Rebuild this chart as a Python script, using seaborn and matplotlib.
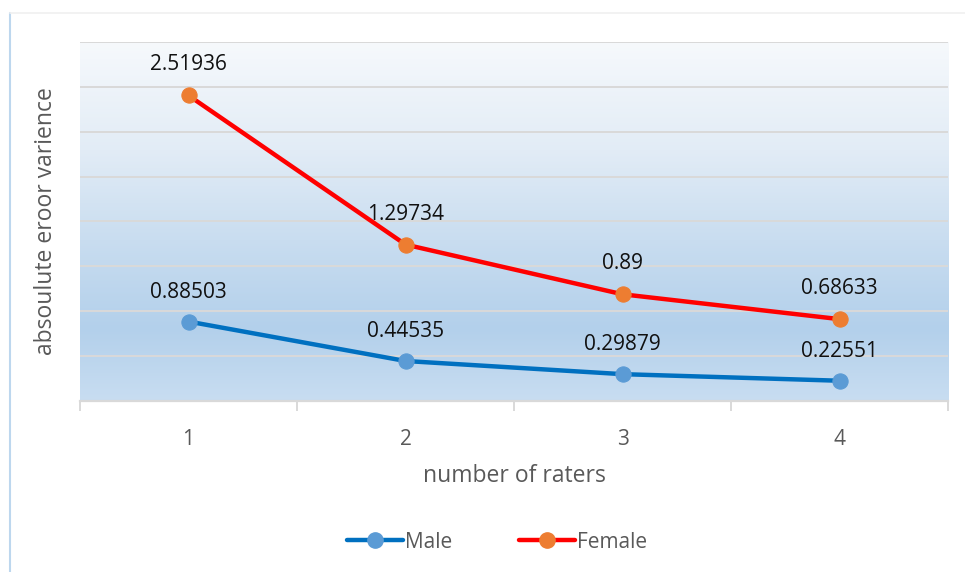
import numpy as np
import pandas as pd
import seaborn as sns
import matplotlib.pyplot as plt
from matplotlib.colors import LinearSegmentedColormap
from matplotlib.lines import Line2D

# values (Excel stacked line chart)
raters = [1, 2, 3, 4]
male = [0.88503, 0.44535, 0.29879, 0.22551]
female = [2.51936, 1.29734, 0.89, 0.68633]

df = pd.DataFrame({'raters': raters, 'Male': male, 'Female': female})
# stacked: female line sits on top of male
df['Female_stack'] = df['Male'] + df['Female']

sns.set_style('white')
plt.rcParams['font.family'] = ['Open Sans', 'DejaVu Sans']

fig = plt.figure(figsize=(9.65, 5.72), dpi=100)
ax = fig.add_axes([0.0829, 0.299, 0.8995, 0.6276])

# gradient plot-area background (row 0 = top)
grad_cmap = LinearSegmentedColormap.from_list(
    'bg', [(0.0, '#f6f9fc'), (0.3, '#e2ecf6'), (0.55, '#c9ddf0'),
           (0.8, '#b3d0eb'), (1.0, '#c8ddf1')])
grad = np.linspace(0, 1, 256).reshape(-1, 1)
ax.imshow(grad, cmap=grad_cmap, aspect='auto', extent=(0.5, 4.5, 0, 4),
          origin='upper', zorder=0)

ax.set_xlim(0.5, 4.5)
ax.set_ylim(0, 4)
ax.set_yticks(np.arange(0, 4.01, 0.5))
ax.set_yticklabels([])
ax.tick_params(axis='y', length=0)
ax.grid(axis='y', color='#d9d9d9', linewidth=1.4, zorder=1)
ax.set_axisbelow(False)

sns.lineplot(data=df, x='raters', y='Male', ax=ax, color='#0070c0',
             linewidth=3.2, marker='o', markersize=11,
             markerfacecolor='#5b9bd5', markeredgecolor='#5b9bd5',
             zorder=3, legend=False)
sns.lineplot(data=df, x='raters', y='Female_stack', ax=ax, color='#ff0000',
             linewidth=3.2, marker='o', markersize=11,
             markerfacecolor='#ed7d31', markeredgecolor='#ed7d31',
             zorder=3, legend=False)

# data labels show the raw values
for x, ys, v in zip(df['raters'], df['Male'], df['Male']):
    ax.annotate(f'{v:g}', (x, ys), xytext=(0, 21), textcoords='offset points',
                ha='center', va='center', fontsize=15, color='#111111',
                zorder=4)
for x, ys, v in zip(df['raters'], df['Female_stack'], df['Female']):
    ax.annotate(f'{v:g}', (x, ys), xytext=(0, 22), textcoords='offset points',
                ha='center', va='center', fontsize=15, color='#111111',
                zorder=4)

ax.set_xticks(raters)
ax.set_xticklabels([str(r) for r in raters])
ax.set_xticks([0.5, 1.5, 2.5, 3.5, 4.5], minor=True)
ax.tick_params(axis='x', which='major', length=0, pad=20, labelsize=15,
               labelcolor='#595959')
ax.tick_params(axis='x', which='minor', length=7, width=1.4,
               color='#d9d9d9', bottom=True)

for side in ['left', 'right', 'top']:
    ax.spines[side].set_visible(False)
ax.spines['bottom'].set_color('#d9d9d9')
ax.spines['bottom'].set_linewidth(1.6)

ax.set_xlabel('number of raters', fontsize=16.5, color='#595959', labelpad=10)
ax.set_ylabel('absoulute eroor varience', fontsize=16.5, color='#595959',
              labelpad=12)

handles = [
    Line2D([0], [0], color='#0070c0', linewidth=3.2, marker='o',
           markersize=11, markerfacecolor='#5b9bd5',
           markeredgecolor='#5b9bd5', solid_capstyle='round'),
    Line2D([0], [0], color='#ff0000', linewidth=3.2, marker='o',
           markersize=11, markerfacecolor='#ed7d31',
           markeredgecolor='#ed7d31', solid_capstyle='round'),
]
fig.legend(handles, ['Male', 'Female'], loc='center',
           bbox_to_anchor=(0.515, 0.052), ncol=2, frameon=False,
           fontsize=15, labelcolor='#595959', handlelength=2.7,
           handletextpad=0.1, columnspacing=3.2)

# chart area border fragments
fig.add_artist(Line2D([0.0104, 0.0104], [0.0, 0.977], color='#bdd7ee',
                      linewidth=1.5))
fig.add_artist(Line2D([0.0104, 1.0], [0.977, 0.977], color='#f0f0f0',
                      linewidth=1.2))

fig.savefig('out.png', dpi=100)
